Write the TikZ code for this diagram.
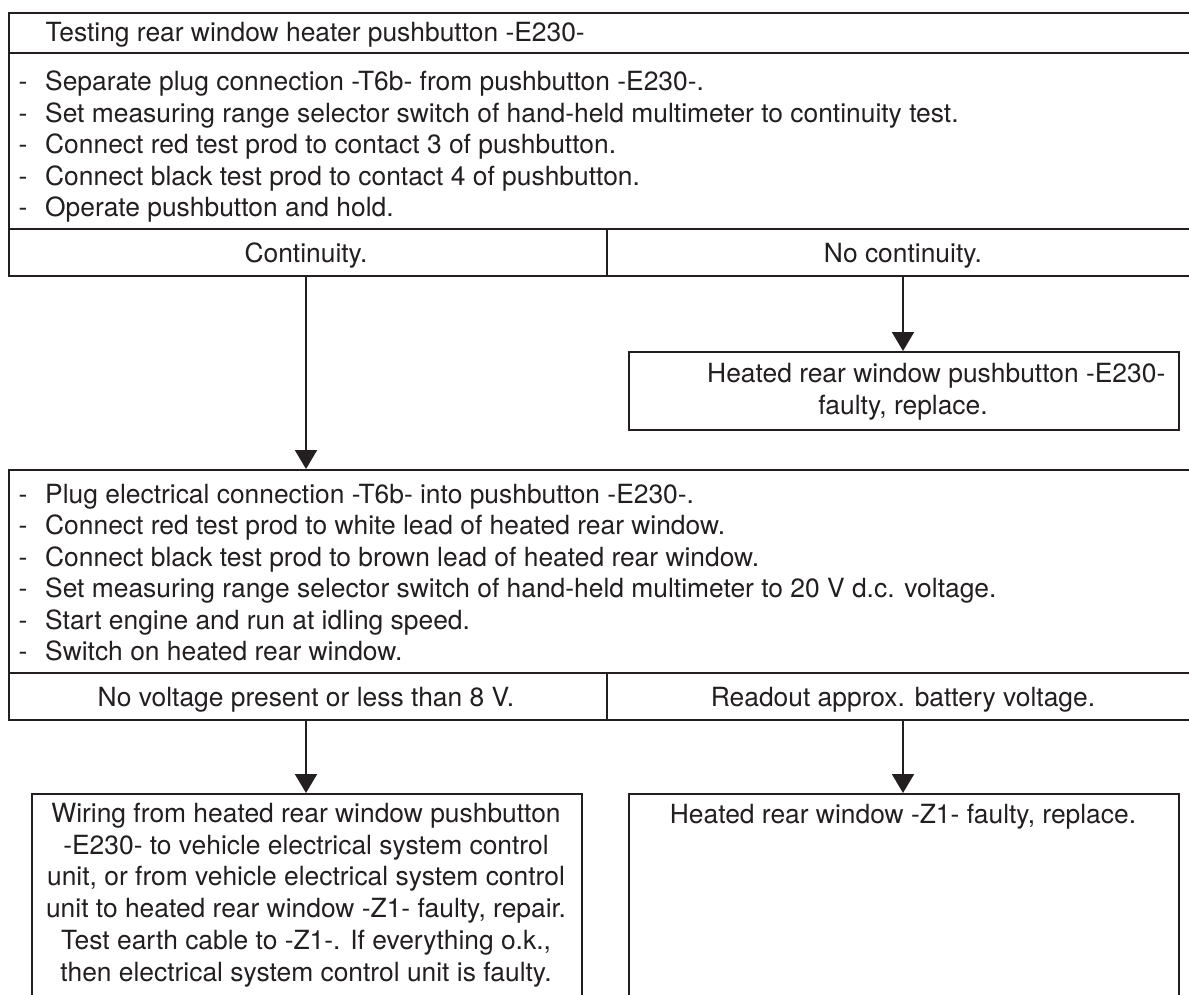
\documentclass[tikz,border=0pt]{standalone}
\usepackage{fontspec}
\setmainfont{TeX Gyre Heros}
\usetikzlibrary{arrows.meta,calc}
\definecolor{ink}{HTML}{231F20}
\begin{document}
\begin{tikzpicture}[x=1pt,y=-1pt,
  cell/.style={draw=ink, line width=2pt, rectangle, inner sep=0pt, anchor=north west},
  txt/.style={text=ink, inner sep=0pt, font=\fontsize{26.4}{31.6}\selectfont},
  arr/.style={draw=ink, line width=2pt, -{Triangle[width=22pt,length=19pt]}}]
\useasboundingbox (0,0) rectangle (1189,994);
\clip (0,0) rectangle (1189,994);
\fill[white] (0,0) rectangle (1189,994);
% boxes
\node[cell, minimum width=1192pt, minimum height=40pt]  (t1) at (8,12) {};
\node[cell, minimum width=1192pt, minimum height=176pt] (s1) at (8,52) {};
\node[cell, minimum width=598pt, minimum height=47pt]   (c1) at (8,228) {};
\node[cell, minimum width=594pt, minimum height=47pt]   (n1) at (606,228) {};
\node[cell, minimum width=550pt, minimum height=78pt]   (h1) at (628,351) {};
\node[cell, minimum width=1192pt, minimum height=203pt] (s2) at (8,469) {};
\node[cell, minimum width=598pt, minimum height=47pt]   (c2) at (8,672) {};
\node[cell, minimum width=594pt, minimum height=47pt]   (n2) at (606,672) {};
\node[cell, minimum width=550pt, minimum height=240pt]  (boxw) at (31,793) {};
\node[cell, minimum width=550pt, minimum height=240pt]  (boxr) at (628,793) {};
% texts
\node[txt, anchor=base west] (title) at (45.5,41.5) {Testing rear window heater pushbutton -E230-};
\foreach \t [count=\i] in {{Separate plug connection -T6b- from pushbutton -E230-.},
  {Set measuring range selector switch of hand-held multimeter to continuity test.},
  {Connect red test prod to contact 3 of pushbutton.},
  {Connect black test prod to contact 4 of pushbutton.},
  {Operate pushbutton and hold.}}
  \node[txt, anchor=base west] (la\i) at (18.5,{90.5+31.5*(\i-1)}) {\makebox[26.5pt][l]{-}\t};
\node[txt, anchor=base] (ct1) at (306,262) {Continuity.};
\node[txt, anchor=base] (nc1) at (903,262) {No continuity.};
\node[txt, anchor=base west] (h1a) at (707,382) {Heated rear window pushbutton -E230-};
\node[txt, anchor=base] (h1b) at (903,414) {faulty, replace.};
\foreach \t [count=\i] in {{Plug electrical connection -T6b- into pushbutton -E230-.},
  {Connect red test prod to white lead of heated rear window.},
  {Connect black test prod to brown lead of heated rear window.},
  {Set measuring range selector switch of hand-held multimeter to 20 V d.c. voltage.},
  {Start engine and run at idling speed.},
  {Switch on heated rear window.}}
  \node[txt, anchor=base west] (lb\i) at (18.5,{503+31.5*(\i-1)}) {\makebox[26.5pt][l]{-}\t};
\node[txt, anchor=base] (nv2) at (306,706) {No voltage present or less than 8 V.};
\node[txt, anchor=base] (rb2) at (903,706) {Readout approx. battery voltage.};
\foreach \t [count=\i] in {{Wiring from heated rear window pushbutton},
  {-E230- to vehicle electrical system control},
  {unit, or from vehicle electrical system control},
  {unit to heated rear window -Z1- faulty, repair.},
  {Test earth cable to -Z1-. If everything o.k.,},
  {then electrical system control unit is faulty.}}
  \node[txt, anchor=base] (lw\i) at (306,{822.5+31.7*(\i-1)}) {\t};
\node[txt, anchor=base] (lr1) at (903,823) {Heated rear window -Z1- faulty, replace.};
% connectors
\draw[arr] (ct1 |- c1.south) -- (ct1 |- s2.north);
\draw[arr] (nc1 |- n1.south) -- (nc1 |- h1.north);
\draw[arr] (nv2 |- c2.south) -- (nv2 |- boxw.north);
\draw[arr] (rb2 |- n2.south) -- (rb2 |- boxr.north);
\end{tikzpicture}
\end{document}
